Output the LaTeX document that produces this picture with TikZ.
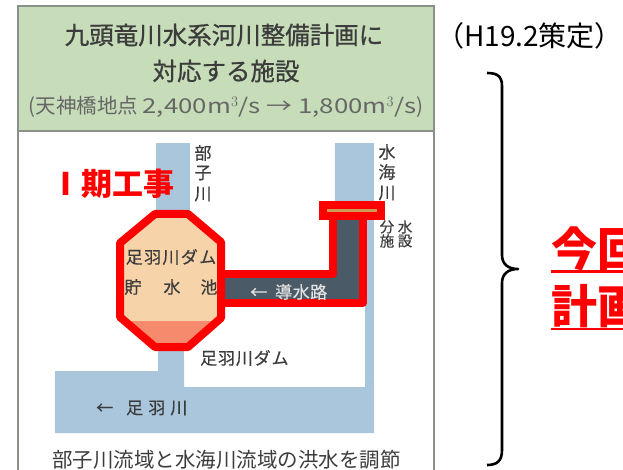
\documentclass[tikz,border=0pt]{standalone}
\usepackage{fontspec}
\setmainfont{Noto Sans CJK JP}
\newcommand{\fsz}[1]{\fontsize{#1}{#1}\selectfont}
\definecolor{headgreen}{HTML}{C7DDB9}
\definecolor{framegray}{HTML}{8A908A}
\definecolor{river}{HTML}{A9C6DC}
\definecolor{peach}{HTML}{F6D3A8}
\definecolor{salmon}{HTML}{F58A6C}
\definecolor{conduit}{HTML}{4A5A66}
\definecolor{gatetan}{HTML}{CF9A55}
\definecolor{inktext}{HTML}{3C3C3C}
\tikzset{
  lbl/.style={inner sep=0pt,text=inktext,font=\fsz{17}\addfontfeature{FakeBold=0.4}},
  small/.style={inner sep=0pt,text=inktext,font=\fsz{14.5}\addfontfeature{FakeBold=0.4}},
  titletext/.style={inner sep=0pt,text=inktext,font=\fsz{24.5}\addfontfeature{FakeBold=0.8}},
  redline/.style={draw=red,line width=8pt,line join=round},
  redtext/.style={inner sep=0pt,text=red,font=\fsz{46}\bfseries},
  frameline/.style={draw=framegray,line width=1.2pt}
}
\newcommand{\wide}[1]{{\addfontfeature{FakeStretch=1.26}#1}}
\begin{document}
\begin{tikzpicture}[x=1pt,y=-1pt]
\useasboundingbox (0,0) rectangle (623,470);
\fill[white] (0,0) rectangle (623,470);
% frame
\fill[headgreen] (18,6) rectangle (434,131);
\draw[frameline] (18,470) -- (18,6) -- (434,6) -- (434,470);
\draw[frameline] (18,131) -- (434,131);
\node[titletext] (t1) at (224,35) {九頭竜川水系河川整備計画に};
\node[titletext] (t2) at (226,71) {対応する施設};
\node[inner sep=0pt,text=black!60,font=\fsz{20.5}] (t3) at (226,107) {(天神橋地点 \wide{2,400m$^{3}$/s → 1,800m$^{3}$/s})};
% rivers
\fill[river] (156,143) rectangle (190,230);
\fill[river] (335,143) rectangle (374,215);
\fill[river] (365,215) rectangle (374,433);
\fill[river] (158,340) rectangle (184,380);
\fill[river] (55,371) -- (158,371) -- (158,360) -- (184,360) -- (184,387) -- (365,387) -- (365,380) -- (374,380) -- (374,433) -- (55,433) -- cycle;
% conduit
\fill[conduit] (221,274) -- (333,274) -- (333,217) -- (363,217) -- (363,303) -- (221,303) -- cycle;
\draw[redline,line width=7.5pt] (221,274) -- (333,274) -- (333,217);
\draw[redline,line width=7.5pt] (363,217) -- (363,303) -- (221,303);
\fill[red] (319,201) rectangle (385,220);
\fill[gatetan] (327,209) rectangle (377,212);
% reservoir
\fill[peach] (155,214) -- (188,214) -- (221,242) -- (221,318) -- (188,347) -- (155,347) -- (120,317) -- (120,243) -- cycle;
\begin{scope}
\clip (155,214) -- (188,214) -- (221,242) -- (221,318) -- (188,347) -- (155,347) -- (120,317) -- (120,243) -- cycle;
\fill[salmon] (110,321) rectangle (230,350);
\end{scope}
\draw[redline] (155,214) -- (188,214) -- (221,242) -- (221,318) -- (188,347) -- (155,347) -- (120,317) -- (120,243) -- cycle;
% labels
\node[lbl] (res1) at (171,257) {\addfontfeature{LetterSpace=8}足羽川ダム};
\node[lbl] (res2a) at (133,287) {貯};
\node[lbl] (res2b) at (172,287) {水};
\node[lbl] (res2c) at (209,287) {池};
\node[lbl,text=white!88!black,anchor=west] (cond) at (250,292) {←\hspace{8pt}\addfontfeature{LetterSpace=3}導水路};
\node[lbl,anchor=west] (dam) at (200,358) {\addfontfeature{LetterSpace=5}足羽川ダム};
\node[lbl,anchor=west] (ash) at (96,408) {←\hspace{13pt}\addfontfeature{LetterSpace=30}足羽川};
\node[inner sep=0pt,text=inktext,font=\fsz{20.5}] (bot) at (226.5,460) {部子川流域と水海川流域の洪水を調節};
\node[lbl] (b1) at (203,153) {部};
\node[lbl] (b2) at (203,173) {子};
\node[lbl] (b3) at (203,194) {川};
\node[lbl] (m1) at (387,152) {水};
\node[lbl] (m2) at (387,172) {海};
\node[lbl] (m3) at (387,193) {川};
\node[small] (f1) at (387,227) {分};
\node[small] (f2) at (387,241) {施};
\node[small] (f3) at (405,227) {水};
\node[small] (f4) at (405,241) {設};
\node[inner sep=0pt,text=red,font=\fsz{31}\bfseries,anchor=west] (phase) at (50,184) {Ⅰ期工事};
\node[inner sep=0pt,text=black,font=\fsz{28},anchor=west] (date) at (436,36) {（H19.2策定）};
% brace
\draw[black,line width=2.6pt,line join=round] (487,73) .. controls (497,73) and (502,76) .. (502,86) -- (502,255) .. controls (502,264) and (508,269) .. (518,269) .. controls (508,269) and (502,274) .. (502,283) -- (502,450) .. controls (502,461) and (497,465) .. (487,465);
% red text
\node[redtext,anchor=west] (plan1) at (551,249) {今回};
\node[redtext,anchor=west] (plan2) at (551,306) {計画};
\draw[red,line width=2.2pt] (551,271.5) -- (623,271.5);
\draw[red,line width=2.2pt] (551,329) -- (623,329);
\end{tikzpicture}
\end{document}
